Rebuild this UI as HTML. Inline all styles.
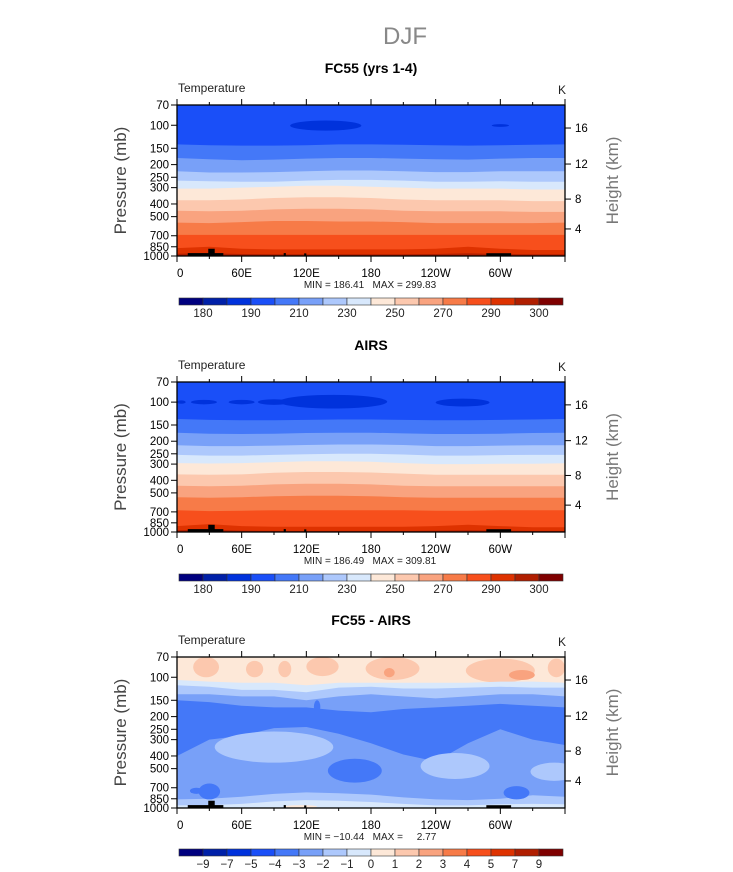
<!DOCTYPE html>
<html><head><meta charset="utf-8">
<style>
body{margin:0;background:#fff;}
svg{display:block;font-family:"Liberation Sans",sans-serif;}
</style></head>
<body>
<svg id="fig" width="733" height="872" viewBox="0 0 733 872" xmlns="http://www.w3.org/2000/svg">
<text x="405" y="44" text-anchor="middle" font-size="24" fill="#888">DJF</text>
</svg>
<script>
const colors=["#00007f","#0020a8","#0032dc","#1a4ff8","#4478f8","#78a0f8","#adc8fc","#d8e8fc","#fde8d8","#fcc8ae","#f9a37f","#f77b48","#f74f1c","#de3200","#b01e00","#7f0000"];
const lons=[0,30,60,90,120,150,180,210,240,270,300,330,360];
const pTicks=[70,100,150,200,250,300,400,500,700,850,1000];
const lonTicks=[0,60,120,180,240,300];
const lonLabels=["0","60E","120E","180","120W","60W"];
const heightLabels=[4,8,12,16];
const heightPress=[621,367,198,105];
const cbLabelsT=["180","190","210","230","250","270","290","300"];
const cbLabelsD=["\u22129","\u22127","\u22125","\u22124","\u22123","\u22122","\u22121","0","1","2","3","4","5","7","9"];

// panel 1 boundaries (pressure at each lon) with color index below
const p1Colors=[4,5,6,7,8,9,10,11,12,13,14];
const p1Bounds=[
[140,142,143,143,142,140,140,141,142,143,142,141,140],
[178,182,185,183,180,178,178,180,182,183,180,178,178],
[225,230,230,228,225,222,222,225,228,228,225,225,225],
[265,268,270,270,265,262,262,265,270,270,268,270,270],
[305,305,300,295,290,290,295,300,305,305,305,310,310],
[375,375,370,360,355,355,360,370,375,375,375,380,380],
[450,455,450,440,435,435,440,450,455,455,455,460,460],
[555,560,550,540,540,545,545,550,560,560,560,560,555],
[690,690,690,690,690,690,690,690,690,690,690,690,690],
[870,850,880,890,890,890,890,890,880,850,880,900,900],
[960,955,965,970,970,970,970,970,965,955,965,970,970]];
// blobs: [lonCenter, lonHalf, pTop, pBottom, color]
const p1Blobs=[[138,33,92,110,2],[300,8,98,103,2]];

const p2Colors=[4,5,6,7,8,9,10,11,12,13,14];
const p2Bounds=[
[135,137,138,138,137,136,136,137,138,138,137,136,135],
[172,175,176,175,173,172,172,174,176,176,175,173,172],
[215,218,218,216,214,212,212,214,218,218,216,215,215],
[255,258,258,255,252,250,250,253,258,258,256,255,255],
[295,297,295,290,285,285,288,295,300,300,298,298,296],
[360,362,360,350,345,345,348,355,362,362,362,362,362],
[440,445,440,430,425,425,430,440,445,445,445,445,445],
[540,545,540,530,525,525,530,540,545,545,545,545,545],
[680,690,685,680,680,680,680,680,685,685,680,680,680],
[900,870,900,910,910,910,910,910,900,880,900,920,920],
[970,960,975,980,980,980,980,980,975,970,975,980,980]];
const p2Blobs=[[145,50,88,112,2],[265,25,94,108,2],[60,12,96,104,2],[25,12,96,104,2],[90,15,95,105,2],[4,4,97,103,2]];

const p3Colors=[7,6,5,4,5,6,7];
const p3Bounds=[
[105,108,110,110,115,110,110,110,110,110,108,108,110],
[115,118,125,125,130,120,118,122,122,120,118,120,120],
[135,135,140,140,150,140,135,140,145,140,135,135,140],
[150,155,165,170,170,180,185,175,170,165,160,165,170],
[400,300,280,245,240,270,320,390,440,320,250,300,330],
[860,850,820,780,760,770,790,830,860,870,850,800,820],
[955,950,930,890,870,880,900,930,955,955,935,930,935]];
const p3Blobs=[
[27,12,70,100,9],[72,8,75,100,9],[100,6,75,100,9],[135,15,70,98,9],[200,25,70,105,9],[300,32,72,110,9],[352,8,72,100,9],
[197,5,85,100,10],[320,12,88,105,10],
[90,55,260,450,6],[258,32,380,600,6],[350,22,450,620,6],
[165,25,420,640,4],[30,10,650,860,4],[315,12,680,860,4],[18,6,700,780,4],[130,3,150,190,4],
[115,15,950,1000,8],[300,8,960,1000,8]];

const topo=[[10,43,950],[29,35,880],[99,101,950],[118,120,955],[287,310,952]];

const panels=[
 {title:"FC55 (yrs 1-4)",top:105,bot:256,titleY:73,bg:3,cols:p1Colors,bounds:p1Bounds,blobs:p1Blobs,cbY:298,minmax:"MIN = 186.41   MAX = 299.83",cbl:cbLabelsT,cbOdd:true,name:"fc55"},
 {title:"AIRS",top:382,bot:532,titleY:350,bg:3,cols:p2Colors,bounds:p2Bounds,blobs:p2Blobs,cbY:574,minmax:"MIN = 186.49   MAX = 309.81",cbl:cbLabelsT,cbOdd:true,name:"airs"},
 {title:"FC55 - AIRS",top:657,bot:808,titleY:625,bg:8,cols:p3Colors,bounds:p3Bounds,blobs:p3Blobs,cbY:849,minmax:"MIN = \u221210.44   MAX =     2.77",cbl:cbLabelsD,cbOdd:false,name:"diff"}];

const svg=document.getElementById('fig');
const NS="http://www.w3.org/2000/svg";
function mk(tag,attrs,parent){const e=document.createElementNS(NS,tag);for(const k in attrs)e.setAttribute(k,attrs[k]);(parent||svg).appendChild(e);return e;}
const X0=177,X1=565;
const xs=l=>X0+(X1-X0)*l/360;

panels.forEach(P=>{
 const ys=p=>P.top+(P.bot-P.top)*Math.log(p/70)/Math.log(1000/70);
 const g=mk('g',{});
 
 
 const t=mk('text',{x:371,y:P.titleY,'text-anchor':'middle','font-size':14,'font-weight':'bold'},g);t.textContent=P.title;
 
 const tt=mk('text',{x:178,y:P.top-13,'font-size':12,fill:'#222'},g);tt.textContent="Temperature";
 
 const tk=mk('text',{x:558,y:P.top-11,'font-size':12,fill:'#222'},g);tk.textContent="K";
 
 const cp=mk('clipPath',{id:'cl'+P.name},g);mk('rect',{x:X0,y:P.top,width:X1-X0,height:P.bot-P.top},cp);
 const pg=mk('g',{'clip-path':'url(#cl'+P.name+')'},g);
 const bgr=mk('rect',{x:X0,y:P.top,width:X1-X0,height:P.bot-P.top,fill:colors[P.bg]},pg);
 
 const drawBlob=b=>{const e=mk('ellipse',{cx:xs(b[0]),cy:(ys(b[2])+ys(b[3]))/2,rx:xs(b[1])-X0,ry:(ys(b[3])-ys(b[2]))/2,fill:colors[b[4]]},pg);
   };
 // upper blobs first (above the first boundary)
 P.blobs.filter(b=>b[3]<=P.bounds[0][Math.round(b[0]/30)]+5 && b[4]!==6 && b[4]!==4 || b[2]<=110).forEach(drawBlob);
 P.bounds.forEach((row,i)=>{
   let d="M"+X0+","+P.bot;
   row.forEach((p,j)=>{d+=" L"+xs(lons[j]).toFixed(1)+","+ys(p).toFixed(1);});
   d+=" L"+X1+","+P.bot+" Z";
   const pa=mk('path',{d:d,fill:colors[P.cols[i]]},pg);
   
 });
 P.blobs.filter(b=>!(b[3]<=P.bounds[0][Math.round(b[0]/30)]+5 && b[4]!==6 && b[4]!==4 || b[2]<=110)).forEach(drawBlob);
 topo.forEach(r=>{const e=mk('rect',{x:xs(r[0]),y:ys(r[2]),width:xs(r[1])-xs(r[0]),height:P.bot-ys(r[2]),fill:'#000'},pg);
   });
 const fr=mk('rect',{x:X0,y:P.top,width:X1-X0,height:P.bot-P.top,fill:'none',stroke:'#000','stroke-width':1.3},g);
 
 // pressure ticks
 pTicks.forEach(p=>{const y=ys(p);mk('line',{x1:X0-6,x2:X0,y1:y,y2:y,stroke:'#000'},g);
   const l=mk('text',{x:X0-8,y:y+4,'text-anchor':'end','font-size':11.5},g);l.textContent=p;
   });
 // lon ticks
 for(let l=0;l<=360;l+=30){const x=xs(l),len=(l%60===0)?6:3;
   mk('line',{x1:x,x2:x,y1:P.top-len,y2:P.top,stroke:'#000'},g);mk('line',{x1:x,x2:x,y1:P.bot,y2:P.bot+len,stroke:'#000'},g);}
 lonTicks.forEach((l,i)=>{const e=mk('text',{x:xs(l),y:P.bot+21,'text-anchor':l===0?'start':'middle','font-size':11.5},g);e.textContent=lonLabels[i];
   });
 heightLabels.forEach((h,i)=>{const y=ys(heightPress[i]);mk('line',{x1:X1,x2:X1+6,y1:y,y2:y,stroke:'#000'},g);
   const e=mk('text',{x:X1+10,y:y+4,'font-size':11.5},g);e.textContent=h;
   });
 const mid=(P.top+P.bot)/2;
 const yt=mk('text',{x:0,y:0,transform:`translate(126,${mid}) rotate(-90)`,'text-anchor':'middle','font-size':17,fill:'#444'},g);yt.textContent="Pressure  (mb)";
 
 const ht=mk('text',{x:0,y:0,transform:`translate(618,${mid}) rotate(-90)`,'text-anchor':'middle','font-size':17,fill:'#777'},g);ht.textContent="Height  (km)";
 
 const mm=mk('text',{x:370,y:P.bot+32,'text-anchor':'middle','font-size':10,fill:'#222'},g);mm.textContent=P.minmax;mm.setAttribute('xml:space','preserve');
 mm.style.whiteSpace='pre';
 
 // colorbar
 const cb=mk('g',{},g);
 const cx0=179,cx1=563,w=(cx1-cx0)/16;
 colors.forEach((c,i)=>{mk('rect',{x:cx0+i*w,y:P.cbY,width:w,height:7,fill:c,stroke:'#333','stroke-width':0.6},cb);});
 P.cbl.forEach((s,i)=>{const bi=P.cbOdd?1+2*i:1+i;const e=mk('text',{x:cx0+bi*w,y:P.cbY+19,'text-anchor':'middle','font-size':11.5,fill:'#222'},cb);e.textContent=s;
   });
});
</script>
</body></html>
